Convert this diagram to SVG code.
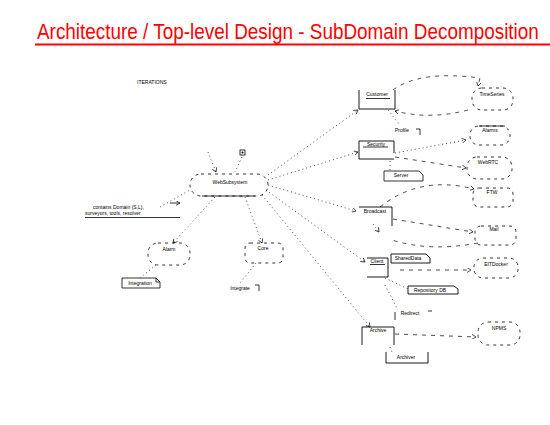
<svg xmlns="http://www.w3.org/2000/svg" width="550" height="425" viewBox="0 0 550 425">
<defs>
<marker id="arr" viewBox="0 0 6 6" refX="5" refY="3" markerWidth="5" markerHeight="5" orient="auto" markerUnits="userSpaceOnUse">
<path d="M0,0 L5,3 L0,6" fill="none" stroke="#000" stroke-width="0.8"/>
</marker>
<style>
.t{font-family:"Liberation Sans",Arial,sans-serif;font-size:5px;fill:#000;text-anchor:middle}
.tl{font-family:"Liberation Sans",Arial,sans-serif;font-size:5px;fill:#000;text-anchor:start}
.sh{fill:none;stroke:#000;stroke-width:0.8;stroke-dasharray:3,4}
.bx{fill:none;stroke:#000;stroke-width:0.9}
.c{fill:none;stroke:#000;stroke-width:0.7;stroke-dasharray:1,3}
.d{fill:none;stroke:#000;stroke-width:0.7;stroke-dasharray:4,5}
.s{fill:none;stroke:#000;stroke-width:0.8}
</style>
</defs>
<rect width="550" height="425" fill="#fff"/>
<g id="title">
<text transform="translate(37,39) scale(0.82,1.1)" x="0" y="0" font-family="Liberation Sans, Arial, sans-serif" font-size="20" fill="#f00" textLength="612" lengthAdjust="spacingAndGlyphs">Architecture / Top-level Design - SubDomain Decomposition</text>
<line x1="35" y1="44.5" x2="550" y2="44.5" stroke="#f00" stroke-width="2"/>
</g>
<text class="tl" x="137" y="84">ITERATIONS</text>
<g id="connectors">
<path class="c" d="M208,152 L216,172" marker-end="url(#arr)"/>
<path class="c" d="M242,157 L235,172"/>
<rect x="240" y="150" width="5" height="5" class="s"/>
<circle cx="242.5" cy="152.5" r="1" fill="#000"/>
<path class="c" d="M160,207 L190,190"/>
<path class="s" d="M170,203 L180,203" marker-end="url(#arr)"/>
<path class="c" d="M215,197 L173,243" marker-end="url(#arr)"/>
<path class="c" d="M156,265 L140,278"/>
<path class="c" d="M245,197 L262,243" marker-end="url(#arr)"/>
<path class="c" d="M256,263 L240,283"/>
<path class="c" d="M268,175 L358,110" marker-end="url(#arr)"/>
<path class="d" d="M393,90 Q420,70 480,78 L478,86" marker-end="url(#arr)"/>
<path class="d" d="M468,110 Q430,120 395,111" marker-end="url(#arr)"/>
<path class="c" d="M388,110 L400,125"/>
<path class="c" d="M268,180 L358,152" marker-end="url(#arr)"/>
<path class="c" d="M395,153 L466,140" marker-end="url(#arr)"/>
<path class="d" d="M395,157 L466,168" marker-end="url(#arr)"/>
<path class="c" d="M390,161 L390,171"/>
<path class="c" d="M268,185 L356,211" marker-end="url(#arr)"/>
<path class="d" d="M380,207 Q420,175 474,189" marker-end="url(#arr)"/>
<path class="d" d="M393,219 L473,232" marker-end="url(#arr)"/>
<path class="d" d="M478,243 Q430,252 392,240"/>
<path class="c" d="M373,224 L379,232" marker-end="url(#arr)"/>
<path class="c" d="M266,190 L365,262" marker-end="url(#arr)"/>
<path class="d" d="M400,270 L471,270" marker-end="url(#arr)"/>
<path class="c" d="M385,278 L410,290"/>
<path class="c" d="M262,195 L370,327" marker-end="url(#arr)"/>
<path class="c" d="M385,285 L398,310"/>
<path class="s" d="M395,312 L395,320"/>
<path class="d" d="M395,334 L476,337" marker-end="url(#arr)"/>
<path class="c" d="M390,347 L392,352"/>
</g>
<g id="web">
<rect class="sh" x="190" y="174" width="78" height="22" rx="11"/>
<line class="s" x1="202" y1="196" x2="255" y2="196"/>
<text class="t" x="230" y="184">WebSubsystem</text>
</g>
<g id="contains">
<text class="tl" x="93" y="209">contains Domain (S,L),</text>
<text class="tl" x="85" y="215">surveyors, tools, resolver</text>
<line class="s" x1="85" y1="217.5" x2="180" y2="217.5"/>
</g>
<g id="alarm">
<rect class="sh" x="148" y="243" width="42" height="22" rx="10"/>
<text class="t" x="169" y="251">Alarm</text>
</g>
<g id="integration">
<path class="s" d="M122,278 L156,278 L160,282 L160,288 L122,288 Z M156,278 L156,282 L160,282"/>
<text class="t" x="140" y="285">Integration</text>
</g>
<g id="core">
<rect class="sh" x="245" y="243" width="38" height="20" rx="5"/>
<text class="t" x="263" y="250">Core</text>
</g>
<g id="integrate">
<text class="t" x="240" y="290">Integrate</text>
<path class="s" d="M255,285 L259,285 L259,291"/>
</g>
<g id="customer">
<path class="bx" d="M359,90 L359,109 L395,109 L395,90"/>
<line class="s" x1="366" y1="98.5" x2="390" y2="98.5"/>
<text class="t" x="377" y="96">Customer</text>
</g>
<g id="timeseries">
<rect class="sh" x="472" y="88" width="41" height="22" rx="10"/>
<text class="t" x="492" y="96">TimeSeries</text>
</g>
<g id="profile">
<text class="t" x="402" y="132">Profile</text>
<path class="s" d="M416,129 L420,129 L420,135"/>
</g>
<g id="security">
<path class="bx" d="M359,141 L394,141 L394,153 M359,141 L359,159 L394,159"/>
<line class="s" x1="363" y1="147" x2="388" y2="147"/>
<text class="t" x="376" y="145.5">Security</text>
</g>
<g id="alarms">
<rect class="sh" x="470" y="126" width="40" height="19" rx="9"/>
<line class="s" x1="480" y1="126" x2="505" y2="126"/>
<text class="t" x="490" y="132">Alarms</text>
</g>
<g id="webrtc">
<rect class="sh" x="467" y="157" width="45" height="22" rx="10"/>
<text class="t" x="488" y="164">WebRTC</text>
</g>
<g id="server">
<path class="s" d="M384,171 L419,171 L423,175 L423,181 L384,181 Z"/>
<text class="t" x="401" y="177">Server</text>
</g>
<g id="broadcast">
<path class="bx" d="M359,207 L392,207 L392,226"/>
<text class="t" x="375" y="213">Broadcast</text>
</g>
<g id="ftw">
<rect class="sh" x="473" y="188" width="40" height="19" rx="6"/>
<text class="t" x="492" y="194">FTW</text>
</g>
<g id="mail">
<rect class="sh" x="475" y="226" width="41" height="19" rx="6"/>
<text class="t" x="494" y="231">Mail</text>
</g>
<g id="client">
<path class="bx" d="M367,258 L388,258 L388,277 L367,277"/>
<line class="s" x1="370" y1="264.5" x2="385" y2="264.5"/>
<text class="t" x="377" y="262.5">Client</text>
</g>
<g id="shareddata">
<path class="bx" d="M391,254 L426,254 L430,258 L430,263 L391,263 Z"/>
<text class="t" x="408" y="260">SharedData</text>
</g>
<g id="eitdocker">
<rect class="sh" x="474" y="258" width="44" height="20" rx="9"/>
<text class="t" x="496" y="266">EITDocker</text>
</g>
<g id="repository">
<path class="bx" d="M408,286 L454,286 L458,289 L458,294 L408,294 Z"/>
<text class="t" x="430" y="292">Repository DB</text>
</g>
<g id="redirect">
<text class="t" x="410" y="315">Redirect</text>
<path class="s" d="M428,311 L432,311"/>
</g>
<g id="archive">
<path class="bx" d="M362,345 L362,327 L394,327 L394,345"/>
<text class="t" x="378" y="332">Archive</text>
</g>
<g id="npms">
<rect class="sh" x="478" y="322" width="42" height="23" rx="10"/>
<text class="t" x="499" y="330">NPMS</text>
</g>
<g id="archivenote">
<path class="bx" d="M386,352 L386,363 L428,363 L428,352"/>
<text class="t" x="406" y="359">Archiver</text>
</g>
</svg>
